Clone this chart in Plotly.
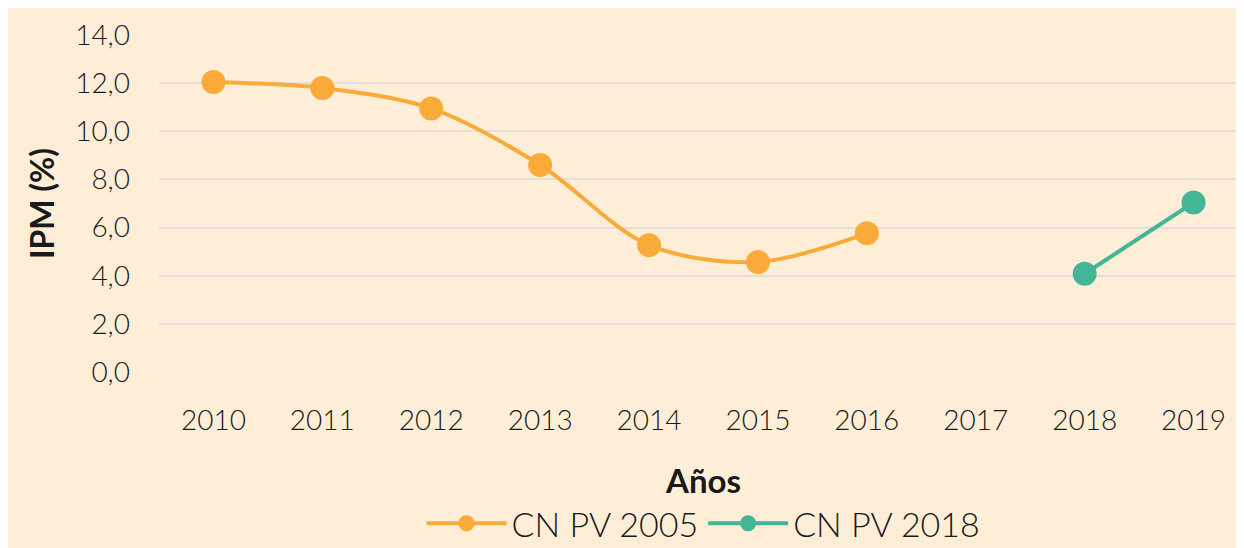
import plotly.graph_objects as go

years = ["2010", "2011", "2012", "2013", "2014", "2015", "2016", "2017", "2018", "2019"]
cn2005_years = ["2010", "2011", "2012", "2013", "2014", "2015", "2016"]
cn2005_vals = [12.05, 11.8, 10.95, 8.6, 5.27, 4.57, 5.76]
cn2018_years = ["2018", "2019"]
cn2018_vals = [4.08, 7.04]
y_ticks = [0, 2, 4, 6, 8, 10, 12, 14]
y_labels = ["0,0", "2,0", "4,0", "6,0", "8,0", "10,0", "12,0", "14,0"]

ORANGE = "#F9AA38"
TEAL = "#45B598"
BG = "#FEEED7"
FONT = "Lato"

fig = go.Figure()
fig.add_trace(go.Scatter(
    x=cn2005_years, y=cn2005_vals, name="CN PV 2005", mode="lines+markers",
    line=dict(color=ORANGE, width=4, shape="spline", smoothing=0.9),
    marker=dict(color=ORANGE, size=24),
))
fig.add_trace(go.Scatter(
    x=cn2018_years, y=cn2018_vals, name="CN PV 2018", mode="lines+markers",
    line=dict(color=TEAL, width=4),
    marker=dict(color=TEAL, size=24),
))

fig.update_layout(
    width=1244, height=548,
    paper_bgcolor=BG, plot_bgcolor=BG,
    margin=dict(l=151, r=4, t=27, b=181),
    font=dict(family=FONT, color="#1a1a1a", size=28, weight=300),
    showlegend=True,
    legend=dict(orientation="h", x=0.5, xanchor="center", y=-0.45, yanchor="middle",
                font=dict(size=34, family=FONT, weight=300), itemwidth=80,
                bgcolor="rgba(0,0,0,0)"),
    xaxis=dict(type="category", categoryorder="array", categoryarray=years,
               range=[-0.5, 9.5], showgrid=False, zeroline=False, showline=False,
               ticks="", tickfont=dict(size=28, weight=300), ticklabelstandoff=29,
               title=dict(text="Años", font=dict(size=33, weight=700), standoff=34)),
    yaxis=dict(range=[0, 14], tickvals=y_ticks, ticktext=y_labels, showgrid=True,
               gridcolor="#E4DFD9", gridwidth=2, zeroline=False, showline=False,
               ticks="", tickfont=dict(size=28, weight=300), ticklabelstandoff=28,
               title=dict(text="IPM (%)", font=dict(size=32, weight=700), standoff=10)),
)

fig.write_html("out.html")
